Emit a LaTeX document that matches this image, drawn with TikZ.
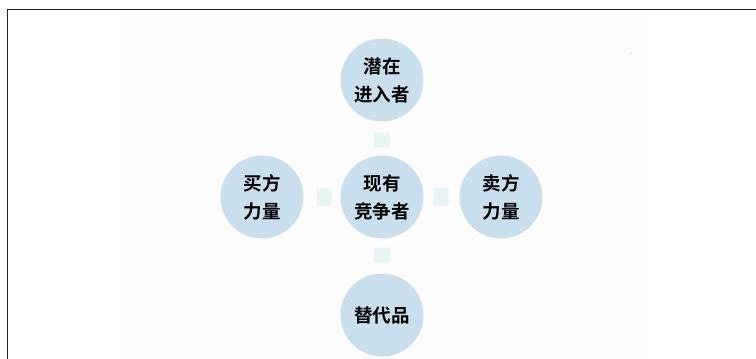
\documentclass[tikz,border=0pt]{standalone}
\usepackage{fontspec}
\newfontfamily\cjk{Noto Sans CJK SC}[BoldFont={Noto Sans CJK SC Bold}]
\definecolor{circfill}{HTML}{CADFED}
\definecolor{sqfill}{HTML}{E8F5F4}
\definecolor{bgpanel}{HTML}{FDFDFD}
\definecolor{framec}{HTML}{222222}
\tikzset{
  force/.style={circle, fill=circfill, minimum size=83pt, inner sep=0pt, align=center,
    font=\cjk\bfseries\fontsize{18.5pt}{28pt}\selectfont, text=black},
  link/.style={rectangle, rounded corners=2pt, fill=sqfill, minimum width=16pt, minimum height=15pt, inner sep=0pt}
}
\begin{document}
\begin{tikzpicture}[x=1pt,y=-1pt]
\useasboundingbox (0,0) rectangle (756,359);
\fill[white] (0,0) rectangle (756,359);
\fill[bgpanel] (123,20) rectangle (648,359);
\draw[framec, line width=1.6pt] (7.5,359) -- (7.5,9.5) -- (756,9.5);
\fill[gray!60] (630.5,52.5) rectangle (632,54);
\node[force] (top) at (382,80) {潜在\\进入者};
\node[force] (left) at (262,197) {买方\\力量};
\node[force] (mid) at (382,197) {现有\\竞争者};
\node[force] (right) at (501,197) {卖方\\力量};
\node[force] (bot) at (382,315) {替代品};
\node[link] (ltop) at (382,140) {};
\node[link, minimum width=15pt, minimum height=18pt] (lleft) at (324,197) {};
\node[link, minimum width=15pt, minimum height=18pt] (lright) at (441,197) {};
\node[link] (lbot) at (382,255) {};
\end{tikzpicture}
\end{document}
